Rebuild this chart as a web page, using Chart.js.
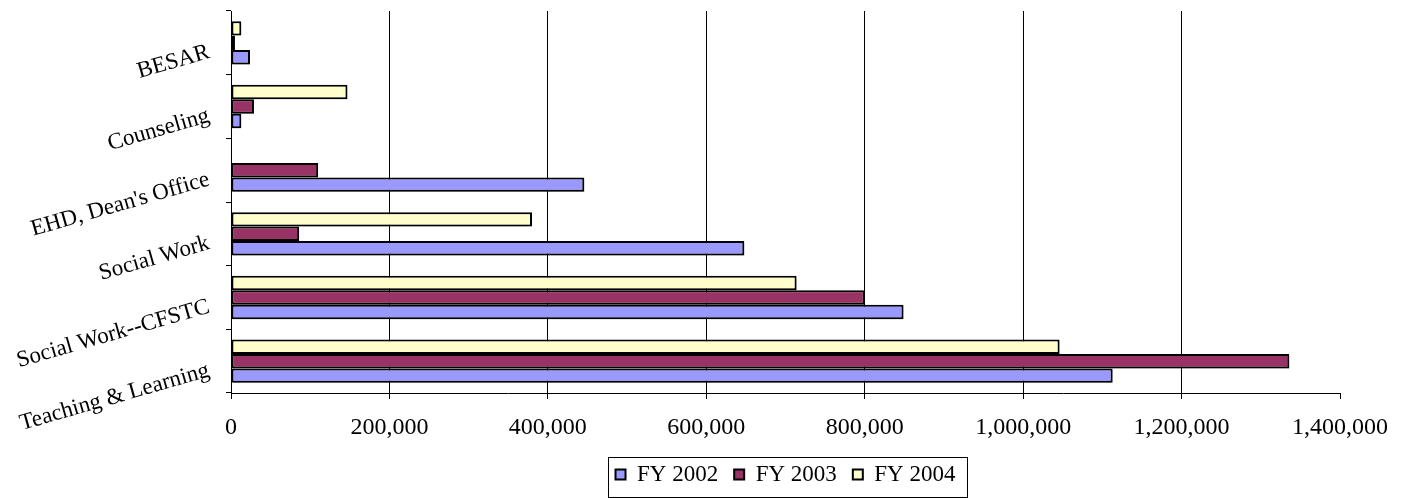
<!DOCTYPE html>
<html>
<head>
<meta charset="utf-8">
<script src="https://cdn.jsdelivr.net/npm/chart.js@4.4.1/dist/chart.umd.min.js"></script>
<style>
  html, body { margin: 0; padding: 0; background: #fff; }
  #wrap { width: 1403px; height: 498px; position: relative; }
</style>
</head>
<body>
<div id="wrap"><canvas id="deptChart"></canvas></div>
<script>
const departments = ["BESAR", "Counseling", "EHD, Dean's Office", "Social Work", "Social Work--CFSTC", "Teaching & Learning"];
const fy2002 = [24000, 13000, 446000, 648000, 849000, 1113000];
const fy2003 = [5000, 29000, 110000, 86000, 800000, 1336000];
const fy2004 = [13000, 147000, null, 380000, 714000, 1046000];
const xTicks = [0, 200000, 400000, 600000, 800000, 1000000, 1200000, 1400000];

const serif = "'Liberation Serif', 'Times New Roman', serif";

// light grey drop shadow under the bars, like the old office chart
const barShadow = {
  id: "barShadow",
  beforeDatasetsDraw(chart) {
    const ctx = chart.ctx;
    ctx.save();
    ctx.shadowColor = "rgba(0, 0, 0, 0.22)";
    ctx.shadowOffsetX = 2;
    ctx.shadowOffsetY = 2;
    ctx.shadowBlur = 0;
  },
  afterDatasetsDraw(chart) {
    chart.ctx.restore();
  },
};

// thin frame around the legend items
const legendFrame = {
  id: "legendFrame",
  afterDraw(chart) {
    const boxes = chart.legend && chart.legend.legendHitBoxes;
    if (!boxes || !boxes.length) {
      return;
    }
    const first = boxes[0];
    const last = boxes[boxes.length - 1];
    const l = Math.round(first.left - 8) + 0.5;
    const r = Math.round(last.left + last.width + 12) + 0.5;
    const t = Math.round(first.top - 6) + 0.5;
    const ctx = chart.ctx;
    ctx.save();
    ctx.strokeStyle = "#000";
    ctx.lineWidth = 1;
    ctx.strokeRect(l, t, r - l, 40);
    ctx.restore();
  },
};

function series(label, data, color) {
  return {
    label: label,
    data: data,
    backgroundColor: color,
    borderColor: "#000",
    borderWidth: 2,
    borderSkipped: false,
    categoryPercentage: 0.68,
    barPercentage: 1.0,
  };
}

new Chart(document.getElementById("deptChart").getContext("2d"), {
  type: "bar",
  data: {
    labels: departments,
    // drawn top to bottom inside each group, so FY 2004 goes first
    datasets: [
      series("FY 2004", fy2004, "#FFFFCC"),
      series("FY 2003", fy2003, "#993366"),
      series("FY 2002", fy2002, "#9999FF"),
    ],
  },
  options: {
    indexAxis: "y",
    responsive: true,
    maintainAspectRatio: false,
    animation: false,
    layout: {
      padding: { top: 11, left: 0, right: 63, bottom: 2 },
    },
    plugins: {
      tooltip: { enabled: false },
      legend: {
        position: "bottom",
        fullSize: false,
        labels: {
          color: "#000",
          font: { family: serif, size: 23 },
          boxWidth: 10,
          boxHeight: 10,
          padding: 16,
          sort: (a, b) => b.datasetIndex - a.datasetIndex,
        },
      },
    },
    scales: {
      x: {
        min: 0,
        max: 1400000,
        afterBuildTicks(scale) {
          scale.ticks = xTicks.map((v) => ({ value: v }));
        },
        afterFit(scale) {
          scale.height = 54;
        },
        ticks: {
          color: "#000",
          font: { family: serif, size: 24 },
          padding: 14,
          maxRotation: 0,
          autoSkip: false,
          callback: (v) => Number(v).toLocaleString("en-US"),
        },
        grid: {
          color: (ctx) => (ctx.tick && ctx.tick.value === 1400000 ? "rgba(0,0,0,0)" : "#000"),
          tickColor: "#000",
          tickLength: 6,
          lineWidth: 1,
        },
        border: { color: "#000", width: 1 },
      },
      y: {
        afterFit(scale) {
          scale.width = 231;
          scale.paddingTop = 0;
          scale.paddingBottom = 0;
        },
        ticks: {
          color: "#000",
          font: { family: serif, size: 23 },
          padding: 17,
          minRotation: 16,
          maxRotation: 16,
          labelOffset: 9,
          autoSkip: false,
        },
        grid: {
          drawOnChartArea: false,
          offset: true,
          tickColor: "#000",
          tickLength: 5,
        },
        border: { color: "#000", width: 1 },
      },
    },
  },
  plugins: [barShadow, legendFrame],
});
</script>
</body>
</html>
